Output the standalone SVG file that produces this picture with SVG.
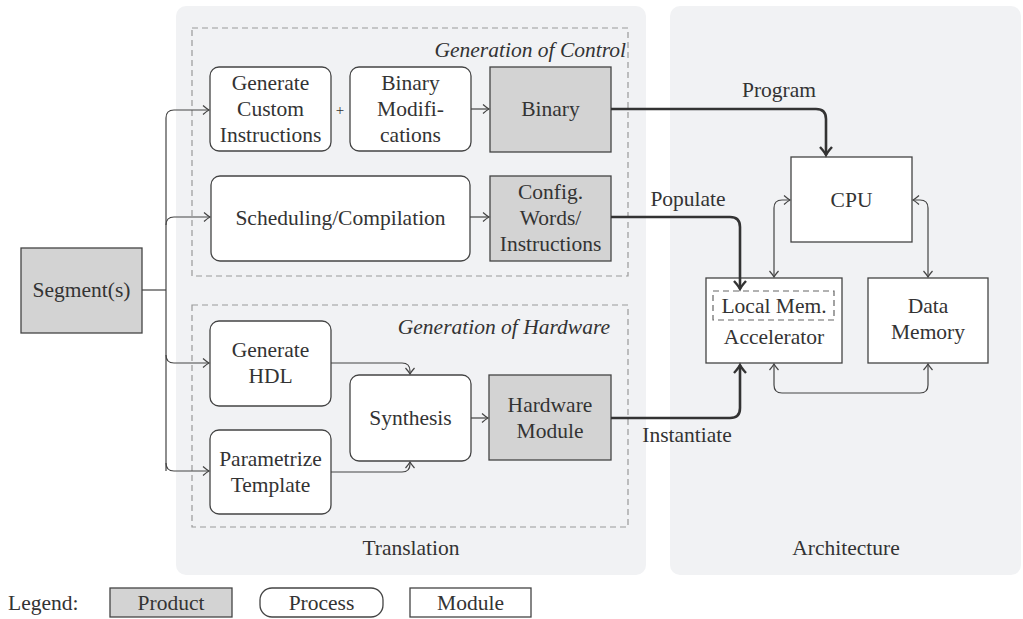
<svg xmlns="http://www.w3.org/2000/svg" width="1023" height="619" viewBox="0 0 1023 619" font-family="'Liberation Serif','Times New Roman','DejaVu Serif',serif">
<style>
text{font-family:"Liberation Serif","Times New Roman","DejaVu Serif",serif;font-size:21.5px;fill:#333;text-anchor:middle}
.it{font-style:italic}
.panel{fill:#f1f2f4;stroke:none}
.grp{fill:none;stroke:#999;stroke-width:1.2;stroke-dasharray:6 4}
.prod{fill:#d3d3d3;stroke:#444;stroke-width:1.3}
.proc{fill:#fff;stroke:#444;stroke-width:1.3}
.mod{fill:#fff;stroke:#444;stroke-width:1.3}
.thin{fill:none;stroke:#444;stroke-width:1.2}
.thick{fill:none;stroke:#333;stroke-width:2.6}
</style>
<defs>
<marker id="ah" markerUnits="userSpaceOnUse" markerWidth="12" markerHeight="12" viewBox="-8 -6 10 12" refX="0" refY="0" orient="auto-start-reverse">
<path d="M-6,-4.5 Q-2,-1 0,0 Q-2,1 -6,4.5" fill="none" stroke="#444" stroke-width="1.2"/>
</marker>
<marker id="ahb" markerUnits="userSpaceOnUse" markerWidth="16" markerHeight="16" viewBox="-10 -8 12 16" refX="0" refY="0" orient="auto">
<path d="M-8,-6 Q-3,-1.5 0,0 Q-3,1.5 -8,6" fill="none" stroke="#333" stroke-width="2.4"/>
</marker>
</defs>

<rect class="panel" x="176" y="6" width="470" height="569" rx="10"/>
<rect class="panel" x="670" y="6" width="351" height="569" rx="10"/>
<rect class="grp" x="192" y="28" width="436" height="248"/>
<rect class="grp" x="192" y="305" width="436" height="222"/>
<text class="it" x="626" y="57" style="text-anchor:end">Generation of Control</text>
<text class="it" x="610" y="334" style="text-anchor:end">Generation of Hardware</text>
<text x="411" y="555">Translation</text>
<text x="846" y="555">Architecture</text>

<g id="segments">
<rect class="prod" x="21" y="248" width="121" height="85"/>
<text x="81.5" y="297">Segment(s)</text>
</g>
<g id="gen-custom">
<rect class="proc" x="210" y="67" width="121" height="84" rx="9"/>
<text x="270.5" y="90">Generate</text>
<text x="270.5" y="116">Custom</text>
<text x="270.5" y="142">Instructions</text>
</g>
<g id="binary-mods">
<rect class="proc" x="350" y="67" width="121" height="84" rx="9"/>
<text x="410.5" y="90">Binary</text>
<text x="410.5" y="116">Modifi-</text>
<text x="410.5" y="142">cations</text>
</g>
<g id="binary">
<rect class="prod" x="490" y="67" width="121" height="85"/>
<text x="550.5" y="116">Binary</text>
</g>
<g id="scheduling">
<rect class="proc" x="211" y="176" width="259" height="85" rx="9"/>
<text x="340.5" y="225">Scheduling/Compilation</text>
</g>
<g id="config">
<rect class="prod" x="490" y="176" width="121" height="85"/>
<text x="550.5" y="199">Config.</text>
<text x="550.5" y="225">Words/</text>
<text x="550.5" y="251">Instructions</text>
</g>
<g id="gen-hdl">
<rect class="proc" x="210" y="321" width="121" height="85" rx="9"/>
<text x="270.5" y="357">Generate</text>
<text x="270.5" y="383">HDL</text>
</g>
<g id="param">
<rect class="proc" x="210" y="430" width="121" height="84" rx="9"/>
<text x="270.5" y="466">Parametrize</text>
<text x="270.5" y="492">Template</text>
</g>
<g id="synthesis">
<rect class="proc" x="350" y="375" width="121" height="86" rx="9"/>
<text x="410.5" y="425">Synthesis</text>
</g>
<g id="hw-module">
<rect class="prod" x="489" y="375" width="122" height="85"/>
<text x="550" y="412">Hardware</text>
<text x="550" y="438">Module</text>
</g>
<g id="cpu">
<rect class="mod" x="791" y="157" width="121" height="85"/>
<text x="851.5" y="207">CPU</text>
</g>
<g id="accelerator">
<rect class="mod" x="706" y="278" width="136" height="85"/>
<rect class="grp" x="713" y="291" width="121" height="29" style="stroke:#666"/>
<text x="774" y="313">Local Mem.</text>
<text x="774" y="344">Accelerator</text>
</g>
<g id="data-memory">
<rect class="mod" x="868" y="278" width="120" height="85"/>
<text x="928" y="313">Data</text>
<text x="928" y="339">Memory</text>
</g>

<g id="connectors">
<path class="thin" d="M142,290 H166"/>
<path class="thin" d="M166,471 V118 Q166,110 174,110 H209" marker-end="url(#ah)"/>
<path class="thin" d="M166,225 Q166,217 174,217 H210" marker-end="url(#ah)"/>
<path class="thin" d="M166,355 Q166,363 174,363 H209" marker-end="url(#ah)"/>
<path class="thin" d="M166,463 Q166,471 174,471 H209" marker-end="url(#ah)"/>
<path class="thin" d="M471,109 H489" marker-end="url(#ah)"/>
<path class="thin" d="M470,217 H489" marker-end="url(#ah)"/>
<path class="thin" d="M331,363 H402 Q410,363 410,371 V374" marker-end="url(#ah)"/>
<path class="thin" d="M331,472 H402 Q410,472 410,464 V462" marker-end="url(#ah)"/>
<path class="thin" d="M471,418 H488" marker-end="url(#ah)"/>
<path class="thick" d="M611,109 H816 Q826,109 826,119 V155" marker-end="url(#ahb)"/>
<path class="thick" d="M611,217 H730 Q740,217 740,227 V289" marker-end="url(#ahb)"/>
<path class="thick" d="M611,418 H730 Q740,418 740,408 V365" marker-end="url(#ahb)"/>
<path class="thin" d="M790,200 H782 Q774,200 774,208 V277" marker-start="url(#ah)" marker-end="url(#ah)"/>
<path class="thin" d="M913,200 H920 Q928,200 928,208 V277" marker-start="url(#ah)" marker-end="url(#ah)"/>
<path class="thin" d="M774,364 V385 Q774,393 782,393 H920 Q928,393 928,385 V364" marker-start="url(#ah)" marker-end="url(#ah)"/>
<text x="779" y="97">Program</text>
<text x="688" y="206">Populate</text>
<text x="687" y="442">Instantiate</text>
<text x="340" y="115" style="font-size:15px">+</text>
</g>

<g id="legend">
<text x="8" y="610" style="text-anchor:start">Legend:</text>
<rect class="prod" x="110" y="588" width="122" height="29"/>
<text x="171" y="610">Product</text>
<rect class="proc" x="260" y="588" width="123" height="29" rx="12"/>
<text x="321.5" y="610">Process</text>
<rect class="mod" x="410" y="588" width="121" height="29"/>
<text x="470.5" y="610">Module</text>
</g>
</svg>
